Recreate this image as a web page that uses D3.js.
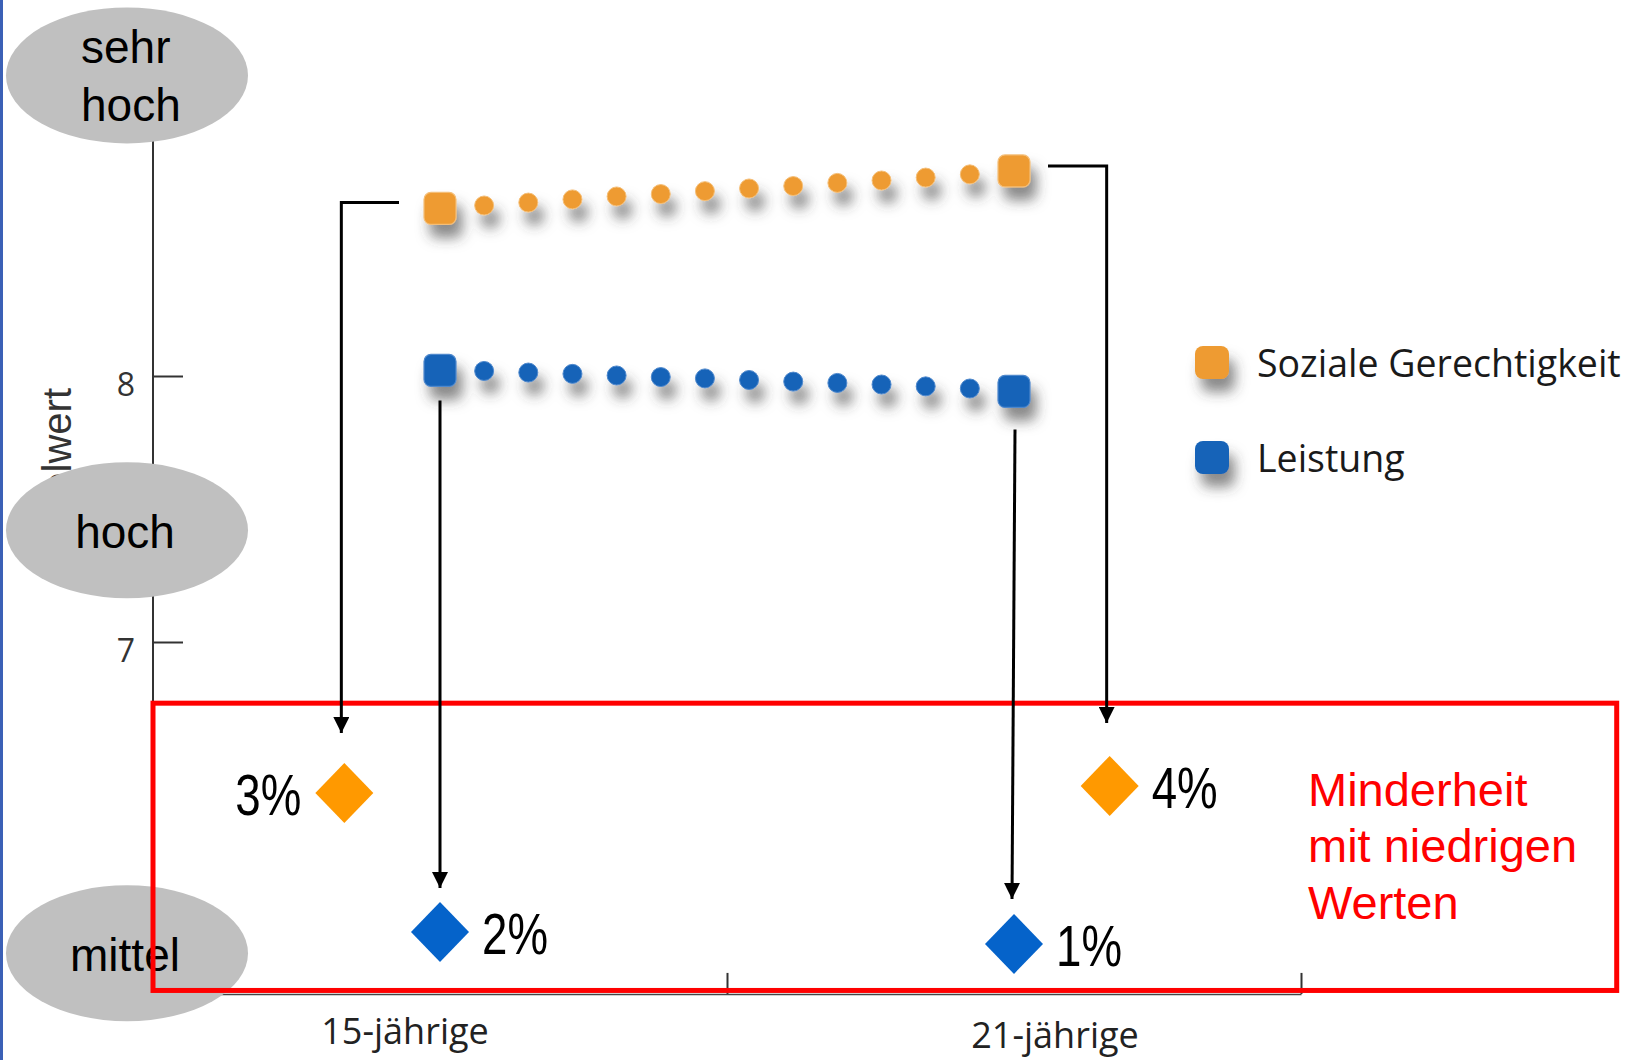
<!DOCTYPE html>
<html>
<head>
<meta charset="utf-8">
<script src="https://cdn.jsdelivr.net/npm/d3@7"></script>
<style>
  html, body { margin: 0; padding: 0; background: #fff; }
  svg { display: block; }
</style>
</head>
<body>
<svg id="chart" width="1643" height="1060"></svg>
<script>
// ---------- data ----------
const categories = ["15-jährige", "21-jährige"];
const categoryAges = [15, 21];
const seriesNames = ["Soziale Gerechtigkeit", "Leistung"];
const sozialeGerechtigkeit = [8.630, 8.641, 8.652, 8.664, 8.675, 8.684, 8.695, 8.705, 8.714, 8.726, 8.735, 8.746, 8.758, 8.771];
const leistung = [8.021, 8.019, 8.013, 8.008, 8.002, 7.996, 7.991, 7.985, 7.979, 7.974, 7.968, 7.961, 7.953, 7.942];
const yTicks = [7, 8];
const yAxisTitle = "Mittelwert";
const levelLabels = [["sehr", "hoch"], ["hoch"], ["mittel"]];
const levelValues = [9.13, 7.42, 5.83];
const minorityLabels = ["3%", "2%", "4%", "1%"];
const minorityAges = [14, 15, 22, 21];
const minorityValues = [6.432, 5.910, 6.459, 5.865];
const minoritySeries = [0, 1, 0, 1];
const minorityNote = ["Minderheit", "mit niedrigen", "Werten"];

// ---------- styles ----------
const markerColors = ["#EE9B30", "#1563B8"];
const markerStroke = ["#F4BE78", "#4F88CC"];
const diamondColors = ["#FF9900", "#0563CA"];

const svg = d3.select("#chart");
const x = d3.scaleLinear().domain([12, 24]).range([153, 1301]);
const y = d3.scaleLinear().domain([7, 8]).range([642, 376]);
const xs = d3.scalePoint().domain(d3.range(sozialeGerechtigkeit.length)).range([x(15), x(21)]);

const defs = svg.append("defs");
const f = defs.append("filter").attr("id", "shadow")
  .attr("x", "-100%").attr("y", "-100%").attr("width", "350%").attr("height", "350%");
f.append("feDropShadow").attr("dx", 6).attr("dy", 13).attr("stdDeviation", 6.5)
  .attr("flood-color", "#3a3a3a").attr("flood-opacity", 0.6);
defs.append("marker").attr("id", "arrow")
  .attr("markerUnits", "userSpaceOnUse")
  .attr("viewBox", "0 0 16 16").attr("refX", 8).attr("refY", 16)
  .attr("markerWidth", 16).attr("markerHeight", 16)
  .attr("orient", "0")
  .append("path").attr("d", "M0,0 L16,0 L8,16 Z").attr("fill", "#000");

svg.append("rect").attr("width", 1643).attr("height", 1060).attr("fill", "#fff");
svg.append("rect").attr("x", 0).attr("y", 0).attr("width", 3).attr("height", 1060).attr("fill", "#3B60B6");

// y axis title (mostly hidden behind the "hoch" ellipse)
svg.append("text")
  .attr("transform", `translate(71, ${y(8) + 12}) rotate(-90)`)
  .attr("text-anchor", "end")
  .attr("font-family", "'Liberation Sans', Arial, sans-serif")
  .attr("font-size", 40).attr("fill", "#333")
  .text(yAxisTitle);

// y axis
const yAxisG = svg.append("g").attr("transform", `translate(${x(12)},0)`)
  .call(d3.axisLeft(y).tickValues(yTicks).tickSizeInner(-30).tickSizeOuter(0).tickPadding(18).tickFormat(d3.format("d")));
yAxisG.select(".domain").remove();
yAxisG.append("line").attr("x1", 0).attr("x2", 0).attr("y1", y(levelValues[0])).attr("y2", y(5.677))
  .attr("stroke", "#333").attr("stroke-width", 2);
yAxisG.selectAll(".tick line").attr("stroke", "#333").attr("stroke-width", 2);
yAxisG.selectAll(".tick text").attr("font-family", "'Open Sans', sans-serif").attr("font-size", 32)
  .attr("fill", "#333").attr("dy", "0.62em");

// x axis
const xAxisG = svg.append("g").attr("transform", `translate(0,${y(5.677)})`)
  .call(d3.axisBottom(x).tickValues([18, 24]).tickSizeInner(-21).tickSizeOuter(0).tickFormat(""));
xAxisG.select(".domain").attr("stroke", "#444").attr("stroke-width", 1.5);
xAxisG.selectAll(".tick line").attr("stroke", "#333").attr("stroke-width", 2);
svg.selectAll(".catLabel").data(categories).join("text")
  .attr("x", (d, i) => x(categoryAges[i]) + (i === 0 ? -35 : 41))
  .attr("y", (d, i) => y(5.677) + (i === 0 ? 50 : 54))
  .attr("text-anchor", "middle")
  .attr("font-family", "'Open Sans', sans-serif").attr("font-size", 36).attr("fill", "#222")
  .text(d => d);

// level ellipses
const lv = svg.selectAll(".level").data(levelLabels).join("g")
  .attr("transform", (d, i) => `translate(127,${y(levelValues[i])})`);
lv.append("ellipse").attr("rx", 121).attr("ry", 68).attr("fill", "#C0C0C0");
lv.each(function (lines) {
  const g = d3.select(this);
  const t = g.append("text").attr("font-family", "'Liberation Sans', Arial, sans-serif")
    .attr("font-size", 46).attr("fill", "#000");
  if (lines.length === 2) {
    lines.forEach((l, k) => t.append("tspan").attr("x", -46).attr("y", -12 + k * 58).text(l));
  } else {
    t.attr("text-anchor", "middle").attr("x", -2).attr("y", 18).text(lines[0]);
  }
});

// series markers
const allSeries = [sozialeGerechtigkeit, leistung];
allSeries.forEach((vals, s) => {
  const g = svg.append("g").attr("filter", "url(#shadow)");
  vals.forEach((v, i) => {
    const end = i === 0 || i === vals.length - 1;
    if (end) {
      g.append("rect").attr("x", xs(i) - 16).attr("y", y(v) - 16).attr("width", 32).attr("height", 32)
        .attr("rx", 7).attr("fill", markerColors[s]).attr("stroke", markerStroke[s]).attr("stroke-width", 1.2);
    } else {
      g.append("circle").attr("cx", xs(i)).attr("cy", y(v)).attr("r", 9.5)
        .attr("fill", markerColors[s]).attr("stroke", markerStroke[s]).attr("stroke-width", 1);
    }
  });
});

// legend
const legend = svg.selectAll(".legend").data(seriesNames).join("g")
  .attr("transform", (d, i) => `translate(1212,${363 + i * 95})`);
legend.append("rect").attr("x", -17).attr("y", -17).attr("width", 34).attr("height", 33).attr("rx", 8)
  .attr("fill", (d, i) => markerColors[i]).attr("filter", "url(#shadow)");
legend.append("text").attr("x", 45).attr("y", 14)
  .attr("font-family", "'Open Sans', sans-serif").attr("font-size", 37.5).attr("fill", "#1a1a1a")
  .text(d => d);

// red box
svg.append("rect")
  .attr("x", x(12)).attr("y", y(6.77))
  .attr("width", x(27.3) - x(12)).attr("height", y(5.69) - y(6.77))
  .attr("fill", "none").attr("stroke", "#FF0000").attr("stroke-width", 5);
svg.append("text").attr("font-family", "'Liberation Sans', Arial, sans-serif")
  .attr("font-size", 47).attr("fill", "#FF0000")
  .selectAll("tspan").data(minorityNote).join("tspan")
  .attr("x", x(12) + 1155).attr("y", (d, i) => y(6.43) + 12 + i * 56.5).text(d => d);

// connectors
const last = sozialeGerechtigkeit.length - 1;
const conn = [
  [[xs(0) - 41, y(sozialeGerechtigkeit[0]) - 6], [x(14) - 3, y(sozialeGerechtigkeit[0]) - 6], [x(14) - 3, y(minorityValues[0]) - 60]],
  [[xs(0), y(leistung[0]) + 30], [xs(0), y(minorityValues[1]) - 44]],
  [[xs(last) + 34, y(sozialeGerechtigkeit[last]) - 5], [x(22) - 3, y(sozialeGerechtigkeit[last]) - 5], [x(22) - 3, y(minorityValues[2]) - 63]],
  [[xs(last) + 1, y(leistung[last]) + 38], [xs(last) - 2, y(minorityValues[3]) - 45]]
];
svg.selectAll(".conn").data(conn).join("path")
  .attr("d", d => d3.line()(d))
  .attr("fill", "none").attr("stroke", "#000").attr("stroke-width", 3)
  .attr("marker-end", "url(#arrow)");

// minority diamonds
minorityLabels.forEach((lab, i) => {
  const cx = x(minorityAges[i]), cy = y(minorityValues[i]);
  svg.append("path")
    .attr("d", `M${cx},${cy - 30} L${cx + 29},${cy} L${cx},${cy + 30} L${cx - 29},${cy} Z`)
    .attr("fill", diamondColors[minoritySeries[i]]);
  const left = i === 0;
  svg.append("text")
    .attr("x", left ? cx - 43 : cx + 42).attr("y", cy + 22)
    .attr("text-anchor", left ? "end" : "start")
    .attr("font-family", "'Liberation Sans', Arial, sans-serif")
    .attr("font-size", 58).attr("fill", "#000")
    .attr("textLength", 66).attr("lengthAdjust", "spacingAndGlyphs")
    .text(lab);
});
</script>
</body>
</html>
